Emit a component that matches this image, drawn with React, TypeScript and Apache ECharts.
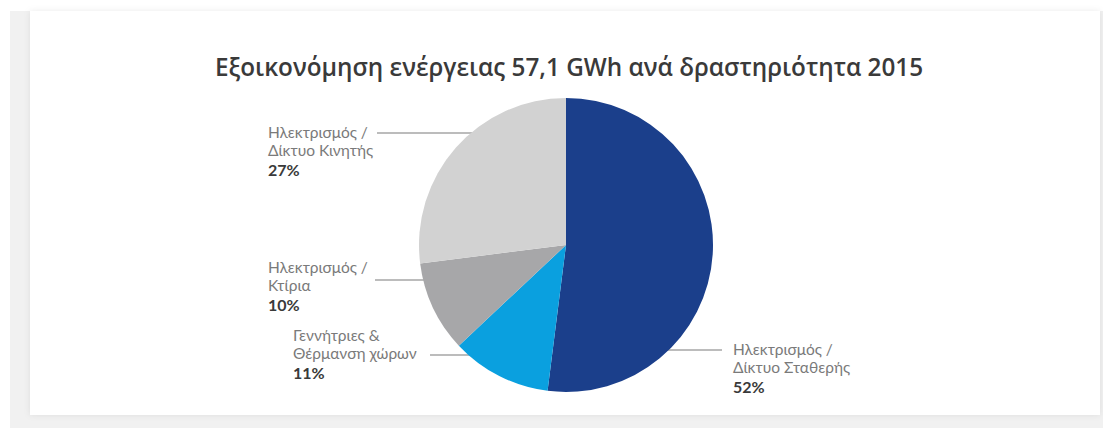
import React, { useEffect, useRef } from "react";
import * as echarts from "echarts";

const TITLE = "Εξοικονόμηση ενέργειας 57,1 GWh ανά δραστηριότητα 2015";
const categories = [
  "Ηλεκτρισμός /\nΔίκτυο Σταθερής",
  "Γεννήτριες &\nΘέρμανση χώρων",
  "Ηλεκτρισμός /\nΚτίρια",
  "Ηλεκτρισμός /\nΔίκτυο Κινητής",
];
const values = [52, 11, 10, 27];
const colors = ["#1b3f8b", "#0aa0df", "#a7a7a9", "#d2d2d2"];

// label placement (style): text top-left and horizontal leader line
const labelPos = [
  { x: 733, y: 340, lineY: 350, x1: 722, x2: 640 },
  { x: 293, y: 326, lineY: 355, x1: 430, x2: 498 },
  { x: 268, y: 258, lineY: 280, x1: 375, x2: 443 },
  { x: 268, y: 123, lineY: 133, x1: 377, x2: 497 },
];

export default function App() {
  const ref = useRef<HTMLDivElement>(null);
  useEffect(() => {
    if (!ref.current) return;
    const chart = echarts.init(ref.current, null, { renderer: "svg" });
    chart.setOption({
      animation: false,
      backgroundColor: "#ffffff",
      graphic: [
        { type: "rect", shape: { x: 10, y: 11, width: 1093, height: 417 }, style: { fill: "#f1f1f1" }, z: -10, silent: true },
        {
          type: "rect",
          shape: { x: 30, y: 11, width: 1070, height: 404 },
          style: { fill: "#ffffff", shadowBlur: 6, shadowColor: "rgba(0,0,0,0.08)" },
          z: -9,
          silent: true,
        },
      ],
      title: {
        text: TITLE,
        left: 564,
        textAlign: "center",
        top: 49,
        textStyle: { fontFamily: "Open Sans", fontSize: 24.3, fontWeight: 600, color: "#3a3a3a" },
      },
      series: [
        {
          type: "pie",
          center: [566, 245],
          radius: 147,
          startAngle: 90,
          clockwise: true,
          data: categories.map((c, i) => ({ name: c, value: values[i], itemStyle: { color: colors[i] } })),
          itemStyle: { borderWidth: 0 },
          label: {
            show: true,
            formatter: (p: any) => {
              const lines = String(p.name).split("\n").map((l) => `{n|${l}}`).join("\n");
              return `${lines}\n{p|${p.value}%}`;
            },
            rich: {
              n: { fontFamily: "Lato", fontSize: 15.5, color: "#7a7a7a", lineHeight: 18 },
              p: { fontFamily: "Lato", fontSize: 16, fontWeight: "bold", color: "#3a3a3a", lineHeight: 21 },
            },
          },
          labelLine: { show: true, lineStyle: { color: "#7a7a7a", width: 1.2 } },
          labelLayout: (params: any) => {
            const lp = labelPos[params.dataIndex];
            return {
              x: lp.x,
              y: lp.y,
              align: "left",
              verticalAlign: "top",
              labelLinePoints: [
                [lp.x1, lp.lineY],
                [(lp.x1 + lp.x2) / 2, lp.lineY],
                [lp.x2, lp.lineY],
              ],
            };
          },
        },
      ],
    });
    return () => chart.dispose();
  }, []);
  return <div ref={ref} style={{ position: "fixed", left: 0, top: 0, width: 1103, height: 428 }} />;
}
